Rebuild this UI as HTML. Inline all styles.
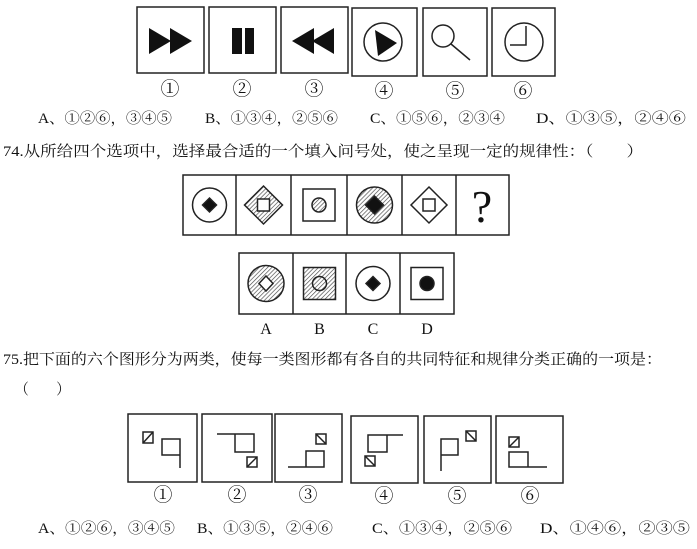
<!DOCTYPE html>
<html><head><meta charset="utf-8"><style>
html,body{margin:0;padding:0;background:#fff;width:697px;height:549px;overflow:hidden}
svg{display:block}
text{font-family:"Liberation Serif","Noto Serif CJK SC","Noto Sans CJK SC",serif;fill:#111}
</style></head><body>
<svg width="697" height="549" viewBox="0 0 697 549" xmlns="http://www.w3.org/2000/svg">
<defs>
<pattern id="h" width="3" height="3" patternUnits="userSpaceOnUse" patternTransform="rotate(45)">
<rect width="3" height="3" fill="#fff"/><line x1="0" y1="0" x2="0" y2="3" stroke="#444" stroke-width="1.3"/>
</pattern>
</defs>
<g fill="none" stroke="#222" stroke-width="1.5">
<rect x="137" y="7" width="67" height="66"/>
<rect x="209" y="7" width="67" height="66"/>
<rect x="281" y="7" width="67" height="66"/>
<rect x="352" y="8" width="65" height="68"/>
<rect x="423" y="8" width="64" height="68"/>
<rect x="492" y="8" width="63" height="68"/>
<circle cx="383" cy="42" r="19"/>
<circle cx="443" cy="36" r="11"/>
<line x1="451" y1="44" x2="470" y2="60"/>
<circle cx="524" cy="42" r="19"/>
<polyline points="526,26 526,45 510,45"/>
</g>
<g fill="#111">
<polygon points="149,28 171,41 149,54"/><polygon points="170,28 192,41 170,54"/>
<rect x="232" y="28" width="10" height="26"/><rect x="245" y="28" width="9" height="26"/>
<polygon points="292,41 314,28 314,54"/><polygon points="312,41 334,28 334,54"/>
<polygon points="375,30 397,43 378,56"/>
</g>
<g font-size="19" text-anchor="middle">
<text x="170" y="95">①</text><text x="242" y="95">②</text><text x="314" y="95">③</text>
<text x="384" y="97">④</text><text x="455" y="97">⑤</text><text x="523" y="97">⑥</text>
</g>
<g font-size="15">
<text x="38" y="123" textLength="134" lengthAdjust="spacingAndGlyphs">A、①②⑥，③④⑤</text>
<text x="205" y="123" textLength="133" lengthAdjust="spacingAndGlyphs">B、①③④，②⑤⑥</text>
<text x="370" y="123" textLength="135" lengthAdjust="spacingAndGlyphs">C、①⑤⑥，②③④</text>
<text x="536" y="123" textLength="150" lengthAdjust="spacingAndGlyphs">D、①③⑤，②④⑥</text>
<text x="3" y="156" textLength="640" lengthAdjust="spacingAndGlyphs">74.从所给四个选项中，选择最合适的一个填入问号处，使之呈现一定的规律性：（　　）</text>
<text x="3" y="364" textLength="659" lengthAdjust="spacingAndGlyphs">75.把下面的六个图形分为两类，使每一类图形都有各自的共同特征和规律分类正确的一项是：</text>
<text x="15" y="394" textLength="55" lengthAdjust="spacingAndGlyphs">（　　）</text>
<text x="38" y="533" textLength="137" lengthAdjust="spacingAndGlyphs">A、①②⑥，③④⑤</text>
<text x="197" y="533" textLength="136" lengthAdjust="spacingAndGlyphs">B、①③⑤，②④⑥</text>
<text x="372" y="533" textLength="140" lengthAdjust="spacingAndGlyphs">C、①③④，②⑤⑥</text>
<text x="540" y="533" textLength="150" lengthAdjust="spacingAndGlyphs">D、①④⑥，②③⑤</text>
</g>
<g stroke="#222" stroke-width="1.5">
<rect x="183" y="175" width="326" height="60" fill="none"/>
<line x1="236" y1="175" x2="236" y2="235"/><line x1="291" y1="175" x2="291" y2="235"/>
<line x1="347" y1="175" x2="347" y2="235"/><line x1="402" y1="175" x2="402" y2="235"/>
<line x1="456" y1="175" x2="456" y2="235"/>
<circle cx="209.5" cy="205" r="17" fill="none"/>
<polygon points="209.5,198 216.5,205 209.5,212 202.5,205" fill="#111"/>
<polygon points="263.5,186 282.5,205 263.5,224 244.5,205" fill="url(#h)"/>
<rect x="257.5" y="199" width="12" height="12" fill="#fff"/>
<rect x="303" y="189" width="32" height="32" fill="none"/>
<circle cx="319" cy="205" r="7" fill="url(#h)"/>
<circle cx="374.5" cy="205" r="18" fill="url(#h)"/>
<polygon points="374.5,196 383.5,205 374.5,214 365.5,205" fill="#111"/>
<polygon points="429,187 447,205 429,223 411,205" fill="none"/>
<rect x="423" y="199" width="12" height="12" fill="none"/>
<rect x="239" y="253" width="215" height="61" fill="none"/>
<line x1="293" y1="253" x2="293" y2="314"/><line x1="346" y1="253" x2="346" y2="314"/><line x1="400" y1="253" x2="400" y2="314"/>
<circle cx="266" cy="283.5" r="18" fill="url(#h)"/>
<polygon points="266,276 273,283.5 266,291 259,283.5" fill="#fff"/>
<rect x="303.5" y="267.5" width="32" height="32" fill="url(#h)"/>
<circle cx="319.5" cy="283.5" r="7" fill="none"/>
<circle cx="373" cy="283.5" r="17" fill="none"/>
<polygon points="373,276.5 380,283.5 373,290.5 366,283.5" fill="#111"/>
<rect x="411" y="267.5" width="32" height="32" fill="none"/>
<circle cx="427" cy="283.5" r="7" fill="#111"/>
</g>
<text x="482" y="222" font-size="46" text-anchor="middle">?</text>
<g font-size="16" text-anchor="middle" font-family="Liberation Sans,sans-serif">
<text x="266" y="334">A</text><text x="319.5" y="334">B</text><text x="373" y="334">C</text><text x="427" y="334">D</text>
</g>
<g fill="none" stroke="#222" stroke-width="1.5">
<rect x="128" y="414" width="69" height="68"/>
<rect x="202" y="414" width="70" height="68"/>
<rect x="275" y="414" width="67" height="68"/>
<rect x="351" y="416" width="67" height="67"/>
<rect x="424" y="416" width="67" height="67"/>
<rect x="496" y="416" width="67" height="67"/>
<rect x="143" y="432" width="10" height="11"/><line x1="143" y1="443" x2="153" y2="432"/>
<path d="M180,468 L180,439 L162,439 L162,455 L180,455"/>
<path d="M217,434 L254,434 L254,452 L235,452 L235,434"/>
<rect x="247" y="457" width="10" height="10"/><line x1="247" y1="467" x2="257" y2="457"/>
<path d="M288,467 L324,467 L324,451 L306,451 L306,467"/>
<rect x="316" y="434" width="10" height="10"/><line x1="316" y1="434" x2="326" y2="444"/>
<path d="M403,435 L368,435 L368,452 L387,452 L387,435"/>
<rect x="365" y="456" width="10" height="10"/><line x1="365" y1="456" x2="375" y2="466"/>
<path d="M441,471 L441,439 L458,439 L458,455 L441,455"/>
<rect x="466" y="431" width="10" height="10"/><line x1="466" y1="431" x2="476" y2="441"/>
<rect x="509" y="437" width="10" height="10"/><line x1="509" y1="447" x2="519" y2="437"/>
<path d="M547,467 L509,467 L509,452 L528,452 L528,467"/>
</g>
<g font-size="19" text-anchor="middle">
<text x="163" y="501">①</text><text x="237" y="501">②</text><text x="308" y="501">③</text>
<text x="384" y="502">④</text><text x="457" y="502">⑤</text><text x="530" y="502">⑥</text>
</g>
</svg>
</body></html>
